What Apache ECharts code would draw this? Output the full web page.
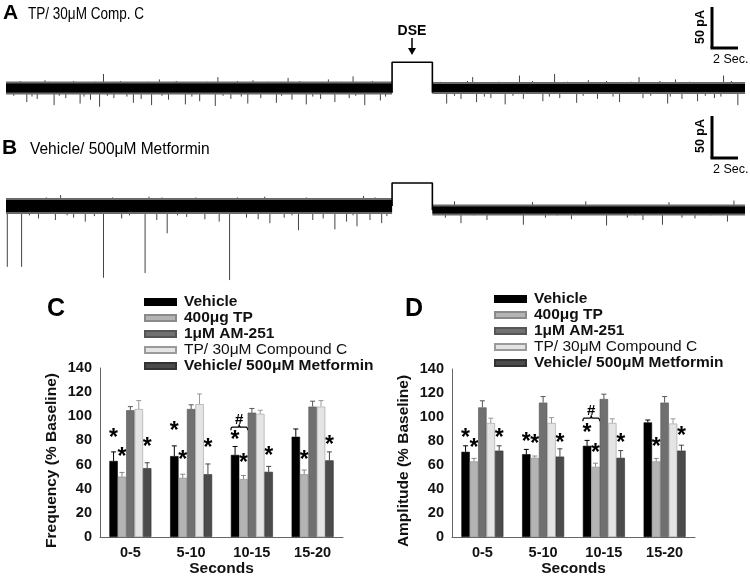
<!DOCTYPE html>
<html><head><meta charset="utf-8">
<script src="https://cdn.jsdelivr.net/npm/echarts@6/dist/echarts.min.js"></script>
<style>html,body{margin:0;padding:0;background:#fff}#c{width:750px;height:578px}</style>
</head><body><div id="c"></div>
<script>
// ---------- DATA ----------
const categories = ['0-5', '5-10', '10-15', '15-20'];
const groups = ['Vehicle', '400μg TP', '1μM AM-251', 'TP/ 30μM Compound C', 'Vehicle/ 500μM Metformin'];
const yTickLabels = ['0', '20', '40', '60', '80', '100', '120', '140'];

// Panel C: Frequency (% Baseline)
const freqVehicle = [63, 67, 68, 83];
const freqTP = [50, 49, 48, 52];
const freqAM = [105, 106, 103, 108];
const freqCompC = [106, 110, 102, 108];
const freqMet = [57, 52, 54, 63.5];
const freqVehicleErr = [7.5, 8.5, 7, 6.5];
const freqTPErr = [3.5, 3, 3, 3.5];
const freqAMErr = [3, 3.5, 3.5, 4.5];
const freqCompCErr = [7, 8.5, 3, 5];
const freqMetErr = [4.5, 8.5, 4.5, 7];
// [category, group index, value]
const freqStars = [[0,0,86],[0,1,70],[0,4,78],[1,0,91],[1,1,67],[1,4,77],[2,0,84],[2,1,65],[2,4,71],[3,1,67],[3,4,80]];
const freqHash = [[2, 0.5, 97, 91]]; // category, between groups, '#' value, brace value

// Panel D: Amplitude (% Baseline)
const ampVehicle = [71, 69, 76, 95.5];
const ampTP = [63, 66, 58.5, 63];
const ampAM = [108, 112, 115, 112];
const ampCompC = [95, 95, 95, 94.5];
const ampMet = [72, 67, 66, 72];
const ampVehicleErr = [5, 4, 4.5, 2];
const ampTPErr = [2.5, 1.5, 3, 2.5];
const ampAMErr = [5.5, 5, 4, 5];
const ampCompCErr = [4, 4.5, 3.5, 4];
const ampMetErr = [4, 6.5, 6, 4.5];
const ampStars = [[0,0,86],[0,1,78],[0,4,86],[1,0,83],[1,1,81],[1,4,82],[2,0,90],[2,1,74],[2,4,82],[3,1,79],[3,4,88]];
const ampHash = [[2, 0.5, 105, 99]];

// Traces (time in s, current in pA relative to baseline)
const traceA_pre = [[0, 0], [29.7, 0]];
const traceA_post = [[32.8, 0], [56.85, 0]];
const traceA_dse = [[29.7, -6], [29.7, 33], [32.8, 33], [32.8, -6]];
// [time, base, end]
const traceA_spikes = [
  [1.6,0,-18],[2.4,0,-14],[3.7,0,-22],[4.6,0,-13],[5.7,0,-20],[6.5,0,-15],[7.2,0,-24],[8.3,0,-13],[9.8,0,-19],[10.4,0,-14],
  [11.2,0,-22],[12.5,0,-15],[13.8,0,-21],[14.9,0,-17],[16.1,0,-23],[17.3,0,-14],[18.6,0,-20],[19.6,0,-13],[20.8,0,-19],[22.0,0,-15],
  [23.1,0,-21],[24.2,0,-14],[25.3,0,-18],[26.4,0,-13],[27.6,0,-22],[28.8,0,-16],
  [33.9,0,-20],[35.0,0,-14],[36.2,0,-18],[37.3,0,-13],[38.4,0,-21],[39.8,0,-14],[41.3,0,-17],[42.6,0,-13],[43.9,0,-19],[45.5,0,-14],
  [47.2,0,-18],[49.0,0,-13],[50.9,0,-20],[52.0,0,-14],[53.2,0,-17],[54.5,0,-13],[56.3,0,-22],
  [7.5,0,18],[16.3,0,14],[21.7,0,13],[26.7,0,15],[35.9,0,14],[39.5,0,16],[42.2,0,18],[48.7,0,14],[55.2,0,16],
  [3.0,0,10],[11.8,0,11],[19.0,0,10],[24.8,0,11],[44.8,0,10],[51.5,0,11],
  [0.6,0,-10],[1.1,0,9],[2.0,0,-11],[3.3,0,8],[4.1,0,-10],[5.2,0,9],[6.0,0,-11],[6.9,0,8],[7.8,0,-10],[8.8,0,9],
  [9.3,0,-11],[10.9,0,8],[12.0,0,-10],[13.1,0,9],[14.3,0,-11],[15.5,0,8],[16.7,0,-10],[17.8,0,9],[18.1,0,-11],[20.2,0,8],
  [21.2,0,-10],[22.6,0,9],[23.6,0,-11],[25.8,0,8],[26.9,0,-10],[28.2,0,9],[29.2,0,-11],
  [33.4,0,8],[34.5,0,-10],[35.5,0,9],[36.8,0,-11],[37.9,0,8],[39.0,0,-10],[40.5,0,9],[41.8,0,-11],[43.2,0,8],[44.4,0,-10],
  [46.2,0,9],[46.7,0,-11],[48.1,0,8],[49.6,0,-10],[50.3,0,9],[51.1,0,-11],[52.6,0,8],[53.8,0,-10],[55.0,0,-11],[55.8,0,9]
];
const traceB_pre = [[0, 0], [29.7, 0]];
const traceB_post = [[32.8, -5], [56.85, -5]];
const traceB_dse = [[29.7, 0], [29.7, 29.5], [32.8, 29.5], [32.8, -5]];
const traceB_spikes = [
  [0.1,0,-78],[1.2,0,-78],[7.5,0,-92],[10.7,0,-86],[17.2,0,-95],
  [12.4,0,-35],[22.5,0,-31],[25.3,0,-30],[27.0,0,-26],[20.3,0,-22],
  [2.5,0,-16],[3.8,0,-18],[5.2,0,-15],[6.1,0,-20],[8.9,0,-16],[11.6,0,-18],[13.9,0,-14],[15.3,0,-17],[16.4,0,-20],[18.5,0,-15],
  [19.4,0,-17],[21.4,0,-15],[23.6,0,-18],[24.4,0,-16],[26.2,0,-20],[28.0,0,-18],[28.9,0,-22],
  [4.2,0,14],[11.0,0,12],[14.6,0,11],[19.9,0,12],[24.0,0,10],[27.5,0,13],
  [0.7,0,10],[1.8,0,-12],[3.1,0,11],[4.7,0,-12],[5.8,0,10],[6.8,0,-13],[8.2,0,11],[9.5,0,-12],[10.2,0,10],[12.0,0,11],
  [13.2,0,-12],[15.9,0,10],[17.8,0,11],[20.9,0,10],[22.0,0,-12],[23.1,0,11],[25.8,0,10],[26.7,0,-12],[28.4,0,11],[29.3,0,-13],
  [33.8,-5,-15],[35.0,-5,-22],[37.0,-5,-18],[39.8,-5,-24],[41.5,-5,-15],[43.5,-5,-17],[46.2,-5,-25],[47.8,-5,-15],[49.0,-5,-18],
  [50.5,-5,-24],[52.0,-5,-15],[53.0,-5,-16],[55.5,-5,-20],
  [34.5,-5,6],[40.5,-5,5],[44.6,-5,6],[51.0,-5,5],[56.0,-5,7],
  [36.0,-5,-12],[38.3,-5,-11],[42.4,-5,-12],[45.2,-5,-11],[48.4,-5,-12],[51.6,-5,-11],[54.2,-5,-12],[56.5,-5,-11]
];

// ---------- STYLE ----------
const FONT = '"Liberation Sans", Arial, Helvetica, sans-serif';
const BW = 8.4;
const fills = ['#000000', '#b4b4b4', '#707070', '#e4e4e4', '#4b4b4b'];
const borders = ['#000000', '#8a8a8a', '#555555', '#9a9a9a', '#333333'];
const errColors = ['#000000', '#888888', '#555555', '#999999', '#444444'];

const series = [];

function traceSeries(idx, pre, post, dse, spikes, coreW, fringeW, coreW2) {
  const base = { type: 'line', xAxisIndex: idx, yAxisIndex: idx, showSymbol: false, silent: true, animation: false };
  [pre, post].forEach((seg, k) => {
    const cw = k === 0 ? coreW : coreW2;
    series.push(Object.assign({}, base, { data: seg, lineStyle: { color: '#6a6a6a', width: cw + fringeW } }));
    series.push(Object.assign({}, base, { data: seg, lineStyle: { color: '#000', width: cw } }));
  });
  series.push({
    type: 'custom', xAxisIndex: idx, yAxisIndex: idx, silent: true, animation: false,
    data: spikes,
    renderItem: function (params, api) {
      const a = api.coord([api.value(0), api.value(1)]);
      const b = api.coord([api.value(0), api.value(2)]);
      return { type: 'line', shape: { x1: a[0], y1: a[1], x2: b[0], y2: b[1] }, style: { stroke: '#444', lineWidth: 1 } };
    }
  });
  series.push(Object.assign({}, base, { data: dse, lineStyle: { color: '#000', width: 1.6 } }));
}
traceSeries(0, traceA_pre, traceA_post, traceA_dse, traceA_spikes, 9, 4, 8);
traceSeries(1, traceB_pre, traceB_post, traceB_dse, traceB_spikes, 12, 4, 7);

function barPanel(axisIdx, vals, errs, stars, hashes) {
  vals.forEach((v, i) => {
    series.push({
      type: 'bar', name: groups[i], xAxisIndex: axisIdx, yAxisIndex: axisIdx,
      data: v, barWidth: BW, barGap: '0%', animation: false,
      itemStyle: { color: fills[i], borderColor: borders[i], borderWidth: 0.6 }
    });
  });
  const errData = [];
  vals.forEach((v, i) => v.forEach((val, c) => errData.push([c, i, val, errs[i][c]])));
  series.push({
    type: 'custom', xAxisIndex: axisIdx, yAxisIndex: axisIdx, animation: false, silent: true,
    data: errData,
    renderItem: function (params, api) {
      const gi = api.value(1);
      const p = api.coord([api.value(0), api.value(2)]);
      const q = api.coord([api.value(0), api.value(2) + api.value(3)]);
      const x = p[0] + (gi - 2) * BW;
      const st = { stroke: errColors[gi], lineWidth: 1 };
      return { type: 'group', children: [
        { type: 'line', shape: { x1: x, y1: p[1], x2: x, y2: q[1] }, style: st },
        { type: 'line', shape: { x1: x - 2.5, y1: q[1], x2: x + 2.5, y2: q[1] }, style: st }
      ] };
    }
  });
  series.push({
    type: 'custom', xAxisIndex: axisIdx, yAxisIndex: axisIdx, animation: false, silent: true,
    data: stars,
    renderItem: function (params, api) {
      const p = api.coord([api.value(0), api.value(2)]);
      const x = p[0] + (api.value(1) - 2) * BW;
      return { type: 'text', x: x, y: p[1] + 5, style: { text: '*', fontSize: 23, fontWeight: 'bold', fontFamily: FONT, fill: '#000', align: 'center', verticalAlign: 'middle', textAlign: 'center', textVerticalAlign: 'middle' } };
    }
  });
  series.push({
    type: 'custom', xAxisIndex: axisIdx, yAxisIndex: axisIdx, animation: false, silent: true,
    data: hashes,
    renderItem: function (params, api) {
      const p = api.coord([api.value(0), api.value(2)]);
      const pb = api.coord([api.value(0), api.value(3)]);
      const x = p[0] + (api.value(1) - 2) * BW;
      return { type: 'group', children: [
        { type: 'text', x: x, y: p[1], style: { text: '#', fontSize: 15, fontWeight: 'bold', fontFamily: FONT, fill: '#000', align: 'center', verticalAlign: 'middle', textAlign: 'center', textVerticalAlign: 'middle' } },
        { type: 'path', shape: { pathData: 'M0 10 Q0 5 5 5 L20 5 Q25 5 25 0 Q25 5 30 5 L45 5 Q50 5 50 10', x: x - BW, y: pb[1] - 3, width: 2 * BW, height: 6, layout: 'cover' }, style: { fill: 'none', stroke: '#000', lineWidth: 1.2 } }
      ] };
    }
  });
}
barPanel(2, [freqVehicle, freqTP, freqAM, freqCompC, freqMet], [freqVehicleErr, freqTPErr, freqAMErr, freqCompCErr, freqMetErr], freqStars, freqHash);
barPanel(3, [ampVehicle, ampTP, ampAM, ampCompC, ampMet], [ampVehicleErr, ampTPErr, ampAMErr, ampCompCErr, ampMetErr], ampStars, ampHash);

const yMin = +yTickLabels[0], yMax = +yTickLabels[yTickLabels.length - 1], yInt = +yTickLabels[1] - +yTickLabels[0];
function catAxis(i) {
  return { gridIndex: i, type: 'category', data: categories,
    axisLine: { lineStyle: { color: '#666', width: 1 } }, axisTick: { show: false },
    axisLabel: { fontFamily: FONT, fontWeight: 'bold', fontSize: 14.5, color: '#111', margin: 8 },
    name: 'Seconds', nameLocation: 'middle', nameGap: 24,
    nameTextStyle: { fontFamily: FONT, fontWeight: 'bold', fontSize: 15.5, color: '#111' } };
}
function valAxis(i, name) {
  return { gridIndex: i, type: 'value', min: yMin, max: yMax, interval: yInt,
    axisLine: { show: true, lineStyle: { color: '#666', width: 1 } }, axisTick: { show: false }, splitLine: { show: false },
    axisLabel: { fontFamily: FONT, fontWeight: 'bold', fontSize: 14.5, color: '#111', margin: 8, formatter: v => yTickLabels[Math.round((v - yMin) / yInt)] },
    name: name, nameLocation: 'middle', nameGap: 40, nameRotate: 90,
    nameTextStyle: { fontFamily: FONT, fontWeight: 'bold', fontSize: 15.5, color: '#111', padding: [0, 16, 0, 0] } };
}
function legendCfg(left, top) {
  return { data: groups, orient: 'vertical', left: left, top: top, padding: 0, itemWidth: 31, itemHeight: 6, itemGap: 0, icon: 'rect',
    selectedMode: false,
    formatter: n => (n === groups[3] ? '{n|' + n + '}' : '{b|' + n + '}'),
    textStyle: { fontFamily: FONT, fontSize: 15.5, color: '#111', padding: [0, 0, 0, 3], lineHeight: 16,
      rich: { b: { fontFamily: FONT, fontSize: 15.5, fontWeight: 'bold', color: '#111', lineHeight: 16, height: 16 },
              n: { fontFamily: FONT, fontSize: 15.5, fontWeight: 'normal', color: '#111', lineHeight: 16, height: 16 } } } };
}

const txt = (x, y, text, size, bold, extra) => Object.assign({ type: 'text', x: x, y: y, silent: true,
  style: { text: text, fontSize: size, fontWeight: bold ? 'bold' : 'normal', fontFamily: FONT, fill: '#000', verticalAlign: 'middle', textVerticalAlign: 'middle' } }, extra || {});
const rotTxt = (x, y, text) => ({ type: 'text', x: x, y: y, rotation: Math.PI / 2, silent: true,
  style: { text: text, fontSize: 12.5, fontWeight: 'bold', fontFamily: FONT, fill: '#000', align: 'center', textAlign: 'center', verticalAlign: 'middle', textVerticalAlign: 'middle' } });

const graphic = [
  txt(3, 13, 'A', 21, true),
  txt(28, 14, 'TP/ 30μM Comp. C', 16.5, false, { scaleX: 0.82 }),
  txt(2, 148, 'B', 21, true),
  txt(30, 149, 'Vehicle/ 500μM Metformin', 16.5, false, { scaleX: 0.94 }),
  txt(47, 309, 'C', 25, true),
  txt(405, 309, 'D', 25, true),
  { type: 'text', x: 412, y: 31, silent: true, style: { text: 'DSE', fontSize: 14, fontWeight: 'bold', fontFamily: FONT, fill: '#000', align: 'center', textAlign: 'center', verticalAlign: 'middle', textVerticalAlign: 'middle' } },
  { type: 'line', silent: true, shape: { x1: 412, y1: 38, x2: 412, y2: 50 }, style: { stroke: '#000', lineWidth: 1.5 } },
  { type: 'polygon', silent: true, shape: { points: [[408, 48], [416, 48], [412, 55]] }, style: { fill: '#000' } },
  { type: 'line', silent: true, shape: { x1: 712, y1: 7, x2: 712, y2: 48 }, style: { stroke: '#000', lineWidth: 3 } },
  { type: 'line', silent: true, shape: { x1: 710.5, y1: 48, x2: 738, y2: 48 }, style: { stroke: '#000', lineWidth: 3 } },
  rotTxt(701, 27, '50 pA'),
  txt(713, 60, '2 Sec.', 12.5, false),
  { type: 'line', silent: true, shape: { x1: 712, y1: 116, x2: 712, y2: 158 }, style: { stroke: '#000', lineWidth: 3 } },
  { type: 'line', silent: true, shape: { x1: 710.5, y1: 158, x2: 738, y2: 158 }, style: { stroke: '#000', lineWidth: 3 } },
  rotTxt(701, 136, '50 pA'),
  txt(713, 170, '2 Sec.', 12.5, false)
];

const hiddenX = i => ({ gridIndex: i, type: 'value', min: 0, max: 56.85, show: false });
const option = {
  backgroundColor: '#fff',
  animation: false,
  grid: [
    { left: 6, top: 41.2, width: 739, height: 85.8 },
    { left: 6, top: 174.8, width: 739, height: 109.2 },
    { left: 100, top: 368, width: 243, height: 177 },
    { left: 452, top: 369, width: 243, height: 175 }
  ],
  xAxis: [hiddenX(0), hiddenX(1), catAxis(2), catAxis(3)],
  yAxis: [
    { gridIndex: 0, type: 'value', min: -50, max: 60, show: false },
    { gridIndex: 1, type: 'value', min: -100, max: 40, show: false },
    valAxis(2, 'Frequency (% Baseline)'),
    valAxis(3, 'Amplitude (% Baseline)')
  ],
  legend: [legendCfg(144, 294), legendCfg(494, 291)],
  graphic: graphic,
  series: series
};
const chart = echarts.init(document.getElementById('c'));
chart.setOption(option);
</script>
</body></html>
